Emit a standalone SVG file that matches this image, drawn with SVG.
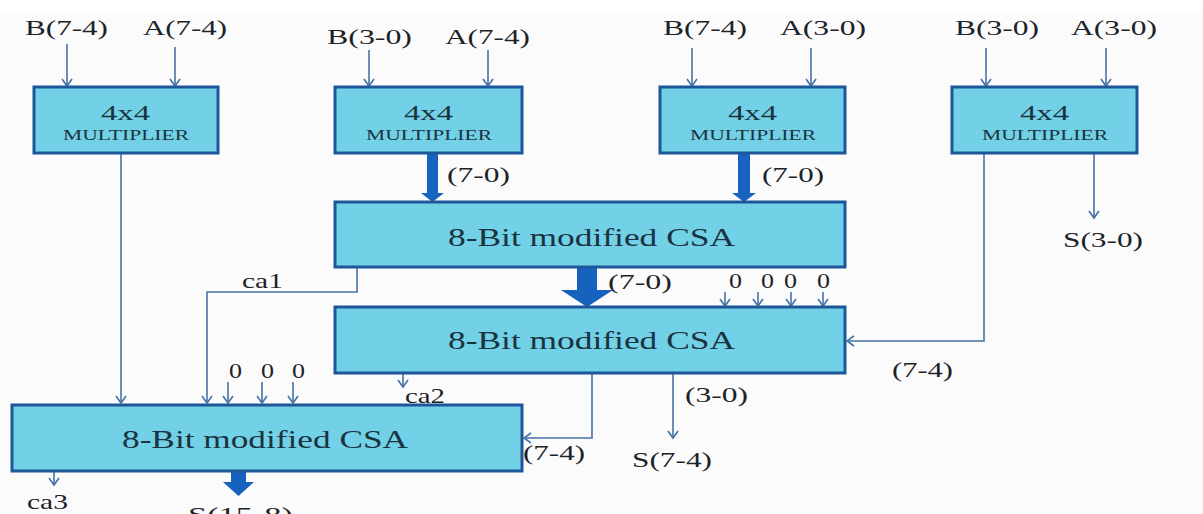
<svg xmlns="http://www.w3.org/2000/svg" width="1203" height="514" viewBox="0 0 1203 514">
<defs>
<style>
.box{fill:#72d1e6;stroke:#1d5799;stroke-width:3}
.ln{fill:none;stroke:#4673a6;stroke-width:1.6}
.thick{fill:#1762bf}
.t{font-family:"Liberation Serif","Times New Roman",serif;fill:#1c2328}
.lab{font-size:21px}
.zero{font-size:22px}
.big{font-size:25px;fill:#1a3340}
.m1{font-size:22px;fill:#1a3340}
.m2{font-size:14px;fill:#1a3340}
</style>
<marker id="ah" viewBox="-9 -7 11 14" refX="0" refY="0" markerWidth="11" markerHeight="14" markerUnits="userSpaceOnUse" orient="auto">
<path d="M-7,-5 L0,0 L-7,5" fill="none" stroke="#4673a6" stroke-width="1.6"/>
</marker>
</defs>
<rect x="0" y="0" width="1203" height="514" fill="#ffffff"/>
<rect x="0" y="13" width="1203" height="501" fill="#fbfbfb"/>

<g id="connectors">
<line class="ln" x1="67" y1="44" x2="67" y2="86" marker-end="url(#ah)"/>
<line class="ln" x1="175" y1="47" x2="175" y2="86" marker-end="url(#ah)"/>
<line class="ln" x1="369" y1="50" x2="369" y2="86" marker-end="url(#ah)"/>
<line class="ln" x1="488" y1="50" x2="488" y2="86" marker-end="url(#ah)"/>
<line class="ln" x1="692" y1="48" x2="692" y2="86" marker-end="url(#ah)"/>
<line class="ln" x1="811" y1="48" x2="811" y2="86" marker-end="url(#ah)"/>
<line class="ln" x1="986" y1="48" x2="986" y2="86" marker-end="url(#ah)"/>
<line class="ln" x1="1106" y1="48" x2="1106" y2="86" marker-end="url(#ah)"/>
<polygon class="thick" points="427,154 438,154 438,193 444,193 432.5,202 421,193 427,193"/>
<polygon class="thick" points="738,154 750,154 750,193 756,193 744,202 732,193 738,193"/>
<polygon class="thick" points="577,268 597,268 597,290 613,290 587,307 561,290 577,290"/>
<polygon class="thick" points="231,472 246,472 246,482 254,482 238.5,496 223,482 231,482"/>
<line class="ln" x1="121" y1="154" x2="121" y2="403" marker-end="url(#ah)"/>
<line class="ln" x1="1094" y1="154" x2="1094" y2="218" marker-end="url(#ah)"/>
<polyline class="ln" points="984,154 984,341 847,341" marker-end="url(#ah)"/>
<polyline class="ln" points="357,268 357,292 207,292 207,403" marker-end="url(#ah)"/>
<line class="ln" x1="725" y1="292" x2="725" y2="306" marker-end="url(#ah)"/>
<line class="ln" x1="758" y1="292" x2="758" y2="306" marker-end="url(#ah)"/>
<line class="ln" x1="791" y1="292" x2="791" y2="306" marker-end="url(#ah)"/>
<line class="ln" x1="823" y1="292" x2="823" y2="306" marker-end="url(#ah)"/>
<line class="ln" x1="228" y1="382" x2="228" y2="403" marker-end="url(#ah)"/>
<line class="ln" x1="262" y1="382" x2="262" y2="403" marker-end="url(#ah)"/>
<line class="ln" x1="293" y1="382" x2="293" y2="403" marker-end="url(#ah)"/>
<line class="ln" x1="403" y1="374" x2="403" y2="387" marker-end="url(#ah)"/>
<polyline class="ln" points="592,374 592,438 524,438" marker-end="url(#ah)"/>
<line class="ln" x1="673" y1="374" x2="673" y2="438" marker-end="url(#ah)"/>
<line class="ln" x1="54" y1="472" x2="54" y2="485" marker-end="url(#ah)"/>
</g>

<g id="mult1">
<rect class="box" x="34" y="87" width="184" height="66"/>
<text class="t m1" x="101" y="120" textLength="49" lengthAdjust="spacingAndGlyphs">4x4</text>
<text class="t m2" x="63" y="140" textLength="126" lengthAdjust="spacingAndGlyphs">MULTIPLIER</text>
</g>
<g id="mult2">
<rect class="box" x="335" y="87" width="187" height="66"/>
<text class="t m1" x="404" y="120" textLength="49" lengthAdjust="spacingAndGlyphs">4x4</text>
<text class="t m2" x="366" y="140" textLength="126" lengthAdjust="spacingAndGlyphs">MULTIPLIER</text>
</g>
<g id="mult3">
<rect class="box" x="660" y="87" width="185" height="66"/>
<text class="t m1" x="728" y="120" textLength="49" lengthAdjust="spacingAndGlyphs">4x4</text>
<text class="t m2" x="690" y="140" textLength="126" lengthAdjust="spacingAndGlyphs">MULTIPLIER</text>
</g>
<g id="mult4">
<rect class="box" x="952" y="87" width="185" height="66"/>
<text class="t m1" x="1020" y="120" textLength="49" lengthAdjust="spacingAndGlyphs">4x4</text>
<text class="t m2" x="982" y="140" textLength="126" lengthAdjust="spacingAndGlyphs">MULTIPLIER</text>
</g>
<g id="csa1">
<rect class="box" x="335" y="202" width="510" height="65"/>
<text class="t big" x="448" y="246" textLength="287" lengthAdjust="spacingAndGlyphs">8-Bit modified CSA</text>
</g>
<g id="csa2">
<rect class="box" x="335" y="307" width="510" height="66"/>
<text class="t big" x="448" y="349" textLength="287" lengthAdjust="spacingAndGlyphs">8-Bit modified CSA</text>
</g>
<g id="csa3">
<rect class="box" x="12" y="405" width="510" height="66"/>
<text class="t big" x="122" y="448" textLength="286" lengthAdjust="spacingAndGlyphs">8-Bit modified CSA</text>
</g>

<g id="labels">
<text class="t lab" x="25" y="35" textLength="83" lengthAdjust="spacingAndGlyphs">B(7-4)</text>
<text class="t lab" x="143" y="35" textLength="84" lengthAdjust="spacingAndGlyphs">A(7-4)</text>
<text class="t lab" x="327" y="44" textLength="85" lengthAdjust="spacingAndGlyphs">B(3-0)</text>
<text class="t lab" x="445" y="44" textLength="85" lengthAdjust="spacingAndGlyphs">A(7-4)</text>
<text class="t lab" x="663" y="35" textLength="84" lengthAdjust="spacingAndGlyphs">B(7-4)</text>
<text class="t lab" x="780" y="35" textLength="86" lengthAdjust="spacingAndGlyphs">A(3-0)</text>
<text class="t lab" x="955" y="35" textLength="84" lengthAdjust="spacingAndGlyphs">B(3-0)</text>
<text class="t lab" x="1071" y="35" textLength="86" lengthAdjust="spacingAndGlyphs">A(3-0)</text>
<text class="t lab" x="447" y="182" textLength="63" lengthAdjust="spacingAndGlyphs">(7-0)</text>
<text class="t lab" x="762" y="182" textLength="62" lengthAdjust="spacingAndGlyphs">(7-0)</text>
<text class="t lab" x="1063" y="247" textLength="80" lengthAdjust="spacingAndGlyphs">S(3-0)</text>
<text class="t lab" x="242" y="288" textLength="41" lengthAdjust="spacingAndGlyphs">ca1</text>
<text class="t lab" x="608" y="289" textLength="64" lengthAdjust="spacingAndGlyphs">(7-0)</text>
<text class="t zero" x="729" y="288" textLength="13" lengthAdjust="spacingAndGlyphs">0</text>
<text class="t zero" x="761" y="288" textLength="13" lengthAdjust="spacingAndGlyphs">0</text>
<text class="t zero" x="784" y="288" textLength="13" lengthAdjust="spacingAndGlyphs">0</text>
<text class="t zero" x="817" y="288" textLength="13" lengthAdjust="spacingAndGlyphs">0</text>
<text class="t lab" x="892" y="377" textLength="61" lengthAdjust="spacingAndGlyphs">(7-4)</text>
<text class="t zero" x="229" y="378" textLength="13" lengthAdjust="spacingAndGlyphs">0</text>
<text class="t zero" x="261" y="378" textLength="13" lengthAdjust="spacingAndGlyphs">0</text>
<text class="t zero" x="292" y="378" textLength="13" lengthAdjust="spacingAndGlyphs">0</text>
<text class="t lab" x="405" y="403" textLength="40" lengthAdjust="spacingAndGlyphs">ca2</text>
<text class="t lab" x="685" y="402" textLength="63" lengthAdjust="spacingAndGlyphs">(3-0)</text>
<text class="t lab" x="523" y="460" textLength="62" lengthAdjust="spacingAndGlyphs">(7-4)</text>
<text class="t lab" x="632" y="467" textLength="80" lengthAdjust="spacingAndGlyphs">S(7-4)</text>
<text class="t lab" x="27" y="509" textLength="41" lengthAdjust="spacingAndGlyphs">ca3</text>
<text class="t lab" x="188" y="522" textLength="105" lengthAdjust="spacingAndGlyphs">S(15-8)</text>
</g>
</svg>
